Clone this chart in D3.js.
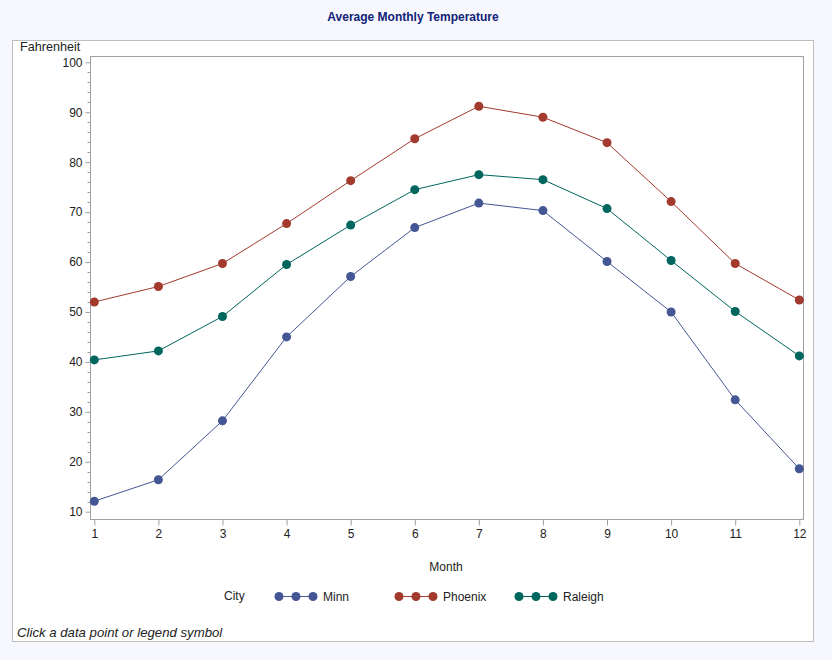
<!DOCTYPE html>
<html><head><meta charset="utf-8">
<script src="https://cdn.jsdelivr.net/npm/d3@7"></script>
<style>
html,body{margin:0;padding:0;background:#f7f8fd;}
svg{display:block;font-family:"Liberation Sans",Arial,sans-serif;}
</style></head>
<body>
<svg id="c" width="832" height="660"></svg>
<script>
const months = [1,2,3,4,5,6,7,8,9,10,11,12];
const minn    = [12.1,16.4,28.2,45.0,57.1,66.9,71.8,70.3,60.1,50.0,32.4,18.6];
const phoenix = [52.0,55.1,59.7,67.7,76.3,84.7,91.2,89.0,83.9,72.1,59.7,52.4];
const raleigh = [40.4,42.2,49.1,59.5,67.4,74.5,77.5,76.5,70.7,60.3,50.1,41.2];
const cities = ["Minn","Phoenix","Raleigh"];
const colors = ["#445694","#a23a2e","#01665e"];
const yTicks = [10,20,30,40,50,60,70,80,90,100];
const series = [minn, phoenix, raleigh];

const svg = d3.select("#c");
svg.append("rect").attr("x",0).attr("y",0).attr("width",832).attr("height",660).attr("fill","#f7f8fd");
svg.append("rect").attr("x",12.5).attr("y",40.5).attr("width",801).attr("height",601)
  .attr("fill","#ffffff").attr("stroke","#bdbdbd");

svg.append("text").attr("x",413).attr("y",21).attr("text-anchor","middle")
  .attr("font-size",12).attr("font-weight","bold").attr("fill","#112277")
  .text("Average Monthly Temperature");

const L=90.5, R=803.5, T=56.5, B=519.5;
const x = d3.scaleLinear().domain([1,12]).range([94.3,799.3]);
const y = d3.scaleLinear().domain([10,100]).range([511.7,62.3]);

svg.append("rect").attr("x",L).attr("y",T).attr("width",R-L).attr("height",B-T)
  .attr("fill","none").attr("stroke","#a0a0a0");

// Y axis
const yAxis = d3.axisLeft(y).tickValues(yTicks).tickSize(5).tickPadding(3);
const gy = svg.append("g").attr("transform",`translate(${L},0)`).call(yAxis);
gy.select(".domain").remove();
gy.selectAll("line").attr("stroke","#a0a0a0");
gy.selectAll("text").attr("font-size",12).attr("fill","#222").attr("font-family","Liberation Sans, Arial, sans-serif");
const minor = d3.range(10,101,2).filter(v=>v%10!==0);
svg.append("g").selectAll("line").data(minor).join("line")
  .attr("x1",L-3).attr("x2",L).attr("y1",d=>Math.round(y(d))+0.5).attr("y2",d=>Math.round(y(d))+0.5)
  .attr("stroke","#a0a0a0");

// X axis
const xAxis = d3.axisBottom(x).tickValues(months).tickSize(6).tickPadding(4).tickFormat(d3.format("d"));
const gx = svg.append("g").attr("transform",`translate(0,${B})`).call(xAxis);
gx.select(".domain").remove();
gx.selectAll("line").attr("stroke","#a0a0a0");
gx.selectAll("text").attr("font-size",12).attr("fill","#222").attr("font-family","Liberation Sans, Arial, sans-serif");

svg.append("text").attr("x",20).attr("y",51).attr("font-size",12.6).attr("fill","#222").text("Fahrenheit");
svg.append("text").attr("x",446).attr("y",571).attr("text-anchor","middle").attr("font-size",12).attr("fill","#222").text("Month");

// Lines and markers
const line = d3.line().x((d,i)=>x(months[i])).y(d=>y(d));
series.forEach((s,k)=>{
  svg.append("path").datum(s).attr("d",line).attr("fill","none").attr("stroke",colors[k]).attr("stroke-width",1);
  svg.append("g").selectAll("circle").data(s).join("circle")
    .attr("cx",(d,i)=>x(months[i])).attr("cy",d=>y(d)).attr("r",4.5).attr("fill",colors[k]);
});

// Legend
svg.append("text").attr("x",224).attr("y",600).attr("font-size",12).attr("fill","#222").text("City");
const legX = [279,399,519];
cities.forEach((c,k)=>{
  const g = svg.append("g");
  g.append("line").attr("x1",legX[k]).attr("x2",legX[k]+34).attr("y1",596.5).attr("y2",596.5).attr("stroke",colors[k]);
  [0,17,34].forEach(o=>g.append("circle").attr("cx",legX[k]+o).attr("cy",596.5).attr("r",4.5).attr("fill",colors[k]));
  g.append("text").attr("x",legX[k]+44).attr("y",601).attr("font-size",12).attr("fill","#222").text(c);
});

svg.append("text").attr("x",17).attr("y",636.5).attr("font-size",13.2).attr("font-style","italic").attr("fill","#222")
  .text("Click a data point or legend symbol");
</script>
</body></html>
